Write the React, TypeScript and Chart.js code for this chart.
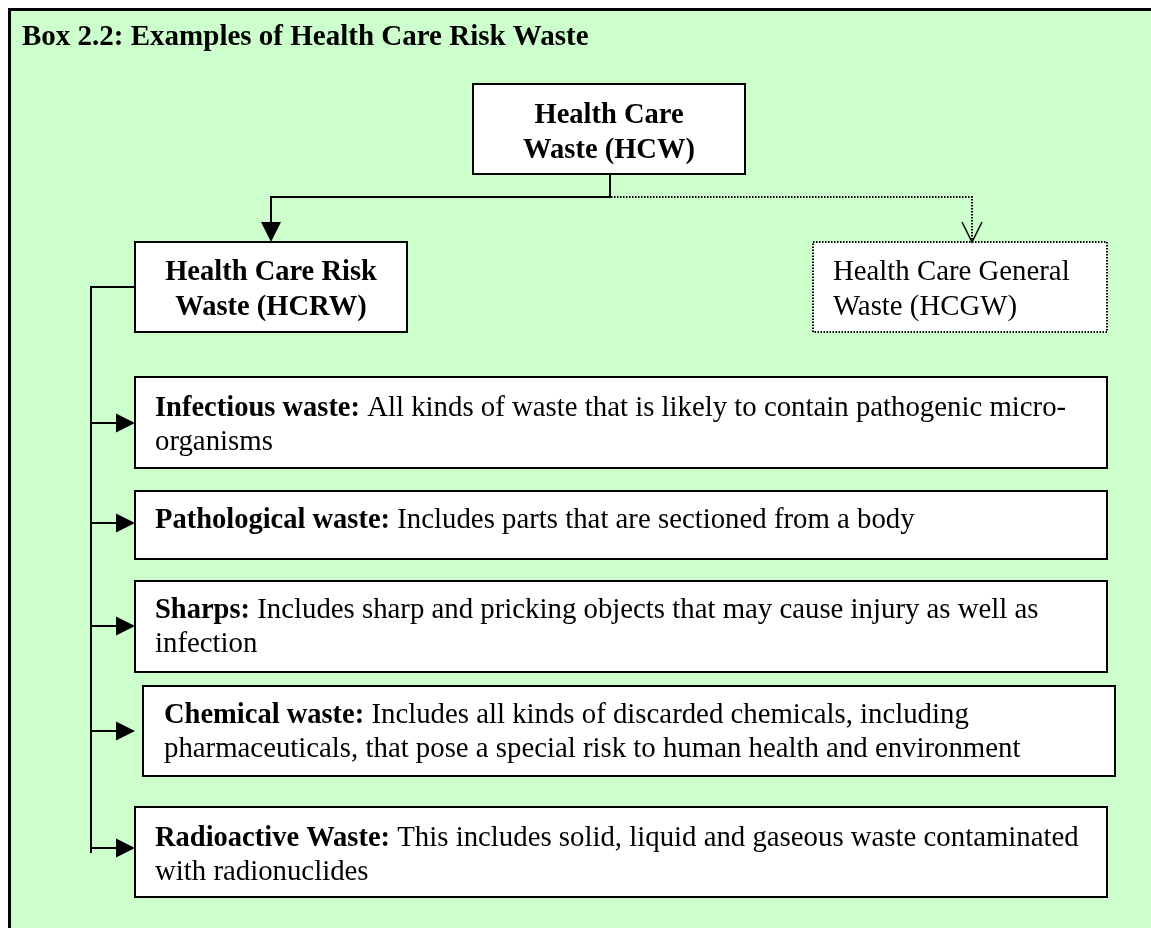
import React, { useEffect, useRef } from "react";
import { Chart, registerables } from "chart.js";

Chart.register(...registerables);

// ---- Content (texts) ----
const titleText = "Box 2.2: Examples of Health Care Risk Waste";
const rootLines = ["Health Care", "Waste (HCW)"];
const riskLines = ["Health Care Risk", "Waste (HCRW)"];
const generalLines = ["Health Care General", "Waste (HCGW)"];
const categoryNames = [
  "Infectious waste:",
  "Pathological waste:",
  "Sharps:",
  "Chemical waste:",
  "Radioactive Waste:",
];
const categoryDescriptions: string[][] = [
  [" All kinds of waste that is likely to contain pathogenic micro-", "organisms"],
  [" Includes parts that are sectioned from a body"],
  [" Includes sharp and pricking objects that may cause injury as well as", "infection"],
  [" Includes all kinds of discarded chemicals, including", "pharmaceuticals, that pose a special risk to human health and environment"],
  [" This includes solid, liquid and gaseous waste contaminated", "with radionuclides"],
];

// ---- Layout (value space of the hidden linear scales) ----
const W = 1151;
const H = 928;
const rootBox = { l: 473, t: 84, r: 745, b: 174 };
const riskBox = { l: 135, t: 242, r: 407, b: 332 };
const generalBox = { l: 813, t: 242, r: 1107, b: 332 };
const categoryBoxes = [
  { l: 135, t: 377, r: 1107, b: 468 },
  { l: 135, t: 491, r: 1107, b: 559 },
  { l: 135, t: 581, r: 1107, b: 672 },
  { l: 143, t: 686, r: 1115, b: 776 },
  { l: 135, t: 807, r: 1107, b: 897 },
];
const categoryArrowY = [423, 523, 626, 731, 848];
const categoryTextX = [155, 155, 155, 164, 155];
const categoryFirstBaseline = [416, 528, 618, 723, 846];
const trunkX = 91;
const branchY = 197;
const LINE_H = 35;
const FAMILY = '"Liberation Serif", "Times New Roman", Times, serif';

const diagramPlugin = {
  id: "diagram",
  beforeDraw(chart: any) {
    const ctx: CanvasRenderingContext2D = chart.ctx;
    const xs = chart.scales.x;
    const ys = chart.scales.y;
    const X = (v: number) => xs.getPixelForValue(v);
    const Y = (v: number) => ys.getPixelForValue(v);

    ctx.save();
    // background
    ctx.fillStyle = "#ffffff";
    ctx.fillRect(0, 0, chart.width, chart.height);
    ctx.fillStyle = "#CCFFCC";
    ctx.fillRect(X(8), Y(8), X(W) - X(8), Y(H) - Y(8));
    // frame (top and left)
    ctx.fillStyle = "#000000";
    ctx.fillRect(X(8), Y(8), X(W) - X(8), 3);
    ctx.fillRect(X(8), Y(8), 3, Y(H) - Y(8));

    const titleFont = `bold 29px ${FAMILY}`;
    const bold = `bold 28.5px ${FAMILY}`;
    const regular = `28.8px ${FAMILY}`;

    // title
    ctx.fillStyle = "#000";
    ctx.font = titleFont;
    ctx.textBaseline = "alphabetic";
    ctx.textAlign = "left";
    ctx.fillText(titleText, X(22), Y(45));

    const box = (b: any, dotted = false) => {
      ctx.fillStyle = "#ffffff";
      ctx.fillRect(X(b.l), Y(b.t), X(b.r) - X(b.l), Y(b.b) - Y(b.t));
      ctx.strokeStyle = "#000";
      ctx.lineWidth = 2;
      ctx.setLineDash(dotted ? [1.5, 1.5] : []);
      ctx.strokeRect(X(b.l), Y(b.t), X(b.r) - X(b.l), Y(b.b) - Y(b.t));
      ctx.setLineDash([]);
    };

    const line = (pts: number[][], dotted = false, lw = 2) => {
      ctx.strokeStyle = "#000";
      ctx.lineWidth = lw;
      ctx.setLineDash(dotted ? [1.5, 1.5] : []);
      ctx.beginPath();
      pts.forEach((p, i) => (i === 0 ? ctx.moveTo(X(p[0]), Y(p[1])) : ctx.lineTo(X(p[0]), Y(p[1]))));
      ctx.stroke();
      ctx.setLineDash([]);
    };

    const headRight = (tipX: number, y: number) => {
      ctx.fillStyle = "#000";
      ctx.beginPath();
      ctx.moveTo(X(tipX), Y(y));
      ctx.lineTo(X(tipX - 19), Y(y - 9.5));
      ctx.lineTo(X(tipX - 19), Y(y + 9.5));
      ctx.closePath();
      ctx.fill();
    };

    // boxes
    box(rootBox);
    box(riskBox);
    box(generalBox, true);
    categoryBoxes.forEach((b) => box(b));

    // root -> risk connector (solid)
    const rootCx = 610;
    const riskCx = 271;
    line([[rootCx, rootBox.b], [rootCx, branchY], [riskCx, branchY], [riskCx, riskBox.t - 18]]);
    ctx.fillStyle = "#000";
    ctx.beginPath();
    ctx.moveTo(X(riskCx), Y(riskBox.t));
    ctx.lineTo(X(riskCx - 10), Y(riskBox.t - 20));
    ctx.lineTo(X(riskCx + 10), Y(riskBox.t - 20));
    ctx.closePath();
    ctx.fill();

    // root -> general connector (dotted)
    const genCx = 972;
    line([[rootCx + 1, branchY], [genCx, branchY], [genCx, generalBox.t]], true);
    line([[genCx - 10, generalBox.t - 20], [genCx, generalBox.t], [genCx + 10, generalBox.t - 20]], false, 1.5);

    // trunk from risk box
    line([[riskBox.l, 287], [trunkX, 287], [trunkX, 853]]);
    categoryArrowY.forEach((y) => {
      line([[trunkX, y], [118, y]]);
      headRight(135, y);
    });

    // box texts
    ctx.fillStyle = "#000";
    ctx.font = bold;
    ctx.textAlign = "center";
    rootLines.forEach((t, i) => ctx.fillText(t, X((rootBox.l + rootBox.r) / 2), Y(123 + i * LINE_H)));
    riskLines.forEach((t, i) => ctx.fillText(t, X((riskBox.l + riskBox.r) / 2), Y(280 + i * LINE_H)));
    ctx.font = regular;
    ctx.textAlign = "left";
    generalLines.forEach((t, i) => ctx.fillText(t, X(833), Y(280 + i * LINE_H)));

    categoryNames.forEach((name, i) => {
      const x0 = categoryTextX[i];
      const y0 = categoryFirstBaseline[i];
      ctx.font = bold;
      ctx.fillText(name, X(x0), Y(y0));
      const w = ctx.measureText(name).width;
      ctx.font = regular;
      categoryDescriptions[i].forEach((t, j) => {
        if (j === 0) ctx.fillText(t, X(x0) + w, Y(y0));
        else ctx.fillText(t, X(x0), Y(y0 + j * (LINE_H - 1)));
      });
    });
    ctx.restore();
  },
};

export default function App() {
  const ref = useRef<HTMLCanvasElement | null>(null);
  useEffect(() => {
    if (!ref.current) return;
    const chart = new Chart(ref.current, {
      type: "scatter",
      data: { datasets: [{ data: [], showLine: false }] },
      options: {
        animation: false,
        responsive: false,
        maintainAspectRatio: false,
        devicePixelRatio: 1,
        layout: { padding: 0 },
        events: [],
        plugins: { legend: { display: false }, tooltip: { enabled: false }, title: { display: false } },
        scales: {
          x: { type: "linear", min: 0, max: W, display: false },
          y: { type: "linear", min: 0, max: H, reverse: true, display: false },
        },
      },
      plugins: [diagramPlugin],
    });
    return () => chart.destroy();
  }, []);
  return (
    <div style={{ position: "absolute", left: 0, top: 0, width: W, height: H }}>
      <canvas ref={ref} width={W} height={H} style={{ display: "block", width: W, height: H }} />
    </div>
  );
}
